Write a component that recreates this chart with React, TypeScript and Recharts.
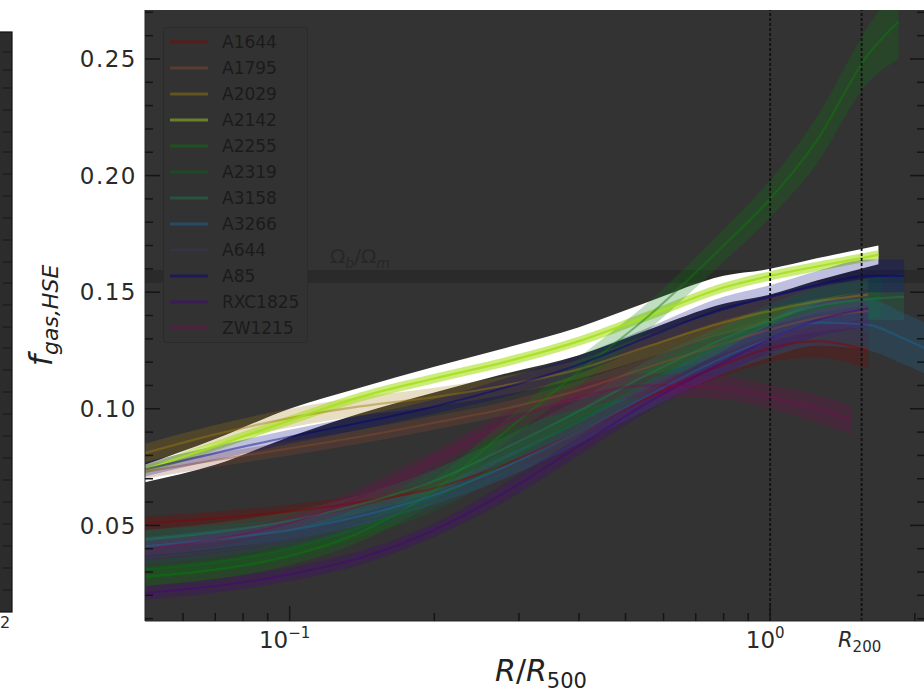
import React from "react";
import {
  Area,
  ComposedChart,
  Legend,
  Line,
  ReferenceArea,
  ReferenceLine,
  XAxis,
  YAxis,
} from "recharts";

// [R/R500, f_gas, 1-sigma half width]
type Point = [number, number, number];

const A1644: Point[] = [
  [0.05, 0.051, 0.003], [0.07, 0.053, 0.003], [0.1, 0.056, 0.003], [0.14, 0.06, 0.003],
  [0.2, 0.066, 0.003], [0.28, 0.076, 0.003], [0.4, 0.09, 0.004], [0.56, 0.105, 0.004],
  [0.8, 0.119, 0.005], [1.0, 0.126, 0.006], [1.25, 0.129, 0.007], [1.6, 0.125, 0.008],
];
const A1795: Point[] = [
  [0.05, 0.073, 0.003], [0.07, 0.078, 0.003], [0.1, 0.083, 0.003], [0.14, 0.088, 0.003],
  [0.2, 0.094, 0.003], [0.28, 0.1, 0.003], [0.4, 0.108, 0.004], [0.56, 0.118, 0.004],
  [0.8, 0.128, 0.005], [1.0, 0.134, 0.005], [1.25, 0.139, 0.006], [1.6, 0.142, 0.007],
];
const A2029: Point[] = [
  [0.05, 0.081, 0.004], [0.07, 0.089, 0.004], [0.1, 0.096, 0.004], [0.14, 0.101, 0.004],
  [0.2, 0.105, 0.004], [0.28, 0.11, 0.004], [0.4, 0.117, 0.004], [0.56, 0.127, 0.005],
  [0.8, 0.137, 0.005], [1.0, 0.142, 0.006], [1.25, 0.146, 0.006], [1.6, 0.149, 0.007],
];
const A2142: Point[] = [
  [0.05, 0.074, 0.002], [0.07, 0.084, 0.002], [0.1, 0.095, 0.002], [0.14, 0.105, 0.002],
  [0.2, 0.113, 0.002], [0.28, 0.12, 0.002], [0.4, 0.129, 0.002], [0.56, 0.14, 0.002],
  [0.8, 0.152, 0.002], [1.0, 0.157, 0.002], [1.25, 0.161, 0.002], [1.68, 0.166, 0.002],
];
const A2255: Point[] = [
  [0.05, 0.028, 0.004], [0.07, 0.031, 0.004], [0.1, 0.037, 0.004], [0.14, 0.047, 0.004],
  [0.2, 0.065, 0.005], [0.28, 0.09, 0.005], [0.4, 0.116, 0.006], [0.56, 0.14, 0.006],
  [0.8, 0.17, 0.007], [1.0, 0.19, 0.008], [1.25, 0.215, 0.01], [1.6, 0.252, 0.012],
  [1.85, 0.266, 0.016],
];
const A2319: Point[] = [
  [0.05, 0.031, 0.004], [0.07, 0.034, 0.004], [0.1, 0.04, 0.004], [0.14, 0.049, 0.004],
  [0.2, 0.061, 0.005], [0.28, 0.077, 0.005], [0.4, 0.095, 0.005], [0.56, 0.112, 0.006],
  [0.8, 0.128, 0.006], [1.0, 0.137, 0.007], [1.25, 0.143, 0.008], [1.7, 0.148, 0.009],
];
const A3158: Point[] = [
  [0.05, 0.044, 0.004], [0.07, 0.047, 0.004], [0.1, 0.052, 0.004], [0.14, 0.059, 0.004],
  [0.2, 0.069, 0.005], [0.28, 0.083, 0.005], [0.4, 0.099, 0.005], [0.56, 0.115, 0.006],
  [0.8, 0.13, 0.006], [1.0, 0.138, 0.007], [1.25, 0.144, 0.008], [1.6, 0.147, 0.009],
  [1.9, 0.148, 0.01],
];
const A3266: Point[] = [
  [0.05, 0.041, 0.004], [0.07, 0.044, 0.004], [0.1, 0.048, 0.004], [0.14, 0.054, 0.004],
  [0.2, 0.063, 0.004], [0.28, 0.075, 0.005], [0.4, 0.09, 0.005], [0.56, 0.106, 0.006],
  [0.8, 0.122, 0.007], [1.0, 0.13, 0.008], [1.25, 0.137, 0.01], [1.6, 0.136, 0.011],
  [1.9, 0.13, 0.011], [2.1, 0.126, 0.011],
];
const A644: Point[] = [
  [0.05, 0.036, 0.003], [0.07, 0.039, 0.003], [0.1, 0.044, 0.003], [0.14, 0.051, 0.004],
  [0.2, 0.061, 0.004], [0.28, 0.074, 0.004], [0.4, 0.09, 0.005], [0.56, 0.106, 0.005],
  [0.8, 0.121, 0.006], [1.0, 0.129, 0.006], [1.25, 0.134, 0.007], [1.6, 0.136, 0.008],
];
const A85: Point[] = [
  [0.05, 0.074, 0.003], [0.07, 0.081, 0.003], [0.1, 0.088, 0.003], [0.14, 0.094, 0.003],
  [0.2, 0.101, 0.003], [0.28, 0.109, 0.004], [0.4, 0.119, 0.004], [0.56, 0.131, 0.004],
  [0.8, 0.143, 0.005], [1.0, 0.148, 0.005], [1.25, 0.153, 0.006], [1.6, 0.157, 0.007],
  [1.9, 0.157, 0.007],
];
const RXC1825: Point[] = [
  [0.05, 0.021, 0.003], [0.07, 0.024, 0.003], [0.1, 0.029, 0.003], [0.14, 0.036, 0.003],
  [0.2, 0.048, 0.003], [0.28, 0.064, 0.004], [0.4, 0.084, 0.004], [0.56, 0.103, 0.004],
  [0.8, 0.12, 0.005], [1.0, 0.13, 0.006], [1.25, 0.138, 0.007], [1.6, 0.143, 0.008],
];
const ZW1215: Point[] = [
  [0.05, 0.04, 0.003], [0.07, 0.044, 0.003], [0.1, 0.051, 0.003], [0.14, 0.062, 0.004],
  [0.2, 0.078, 0.004], [0.28, 0.094, 0.004], [0.4, 0.105, 0.005], [0.56, 0.11, 0.005],
  [0.8, 0.109, 0.005], [1.0, 0.105, 0.005], [1.25, 0.1, 0.006], [1.48, 0.095, 0.006],
];

// white envelope behind A2142: [R/R500, low, high]
const A2142_ENVELOPE: [number, number, number][] = [
  [0.05, 0.0685, 0.076], [0.07, 0.076, 0.087], [0.1, 0.088, 0.1], [0.14, 0.098, 0.109],
  [0.2, 0.107, 0.118], [0.28, 0.115, 0.126], [0.4, 0.123, 0.135], [0.56, 0.134, 0.146],
  [0.8, 0.145, 0.157], [1.0, 0.149, 0.16], [1.25, 0.155, 0.1645], [1.68, 0.162, 0.17],
];

const CLUSTERS: { name: string; color: string; points: Point[] }[] = [
  { name: "A1644", color: "#8b0000", points: A1644 },
  { name: "A1795", color: "#8b4a30", points: A1795 },
  { name: "A2029", color: "#a07a10", points: A2029 },
  { name: "A2142", color: "#a8e020", points: A2142 },
  { name: "A2255", color: "#0a7a0a", points: A2255 },
  { name: "A2319", color: "#086818", points: A2319 },
  { name: "A3158", color: "#1f7a50", points: A3158 },
  { name: "A3266", color: "#1a6aa0", points: A3266 },
  { name: "A644", color: "#383860", points: A644 },
  { name: "A85", color: "#000080", points: A85 },
  { name: "RXC1825", color: "#4b0082", points: RXC1825 },
  { name: "ZW1215", color: "#7a0a55", points: ZW1215 },
];
const HIGHLIGHT = "A2142";

const X_DOMAIN: [number, number] = [0.05, 2.1];
const Y_DOMAIN: [number, number] = [0.009, 0.271];
const X_MAJOR = [0.1, 1];
const X_MINOR = [0.06, 0.07, 0.08, 0.09, 0.2, 0.3, 0.4, 0.5, 0.6, 0.7, 0.8, 0.9, 2];
const R200 = 1.55;
const Y_MAJOR = [0.05, 0.1, 0.15, 0.2, 0.25];
const Y_MINOR = [
  0.01, 0.02, 0.03, 0.04, 0.06, 0.07, 0.08, 0.09, 0.11, 0.12, 0.13, 0.14,
  0.16, 0.17, 0.18, 0.19, 0.21, 0.22, 0.23, 0.24, 0.26, 0.27,
];
const OMEGA_BAND: [number, number] = [0.154, 0.1595];

const FONT = "'DejaVu Sans', sans-serif";
const INK = "#2a2a2a";
const TICK = "#151515";
const PLOT_BG = "#333333";

// plot box inside the 926 x 695 chart
const MARGIN = { top: 10, right: 0, bottom: 0, left: 0 };
const Y_AXIS_W = 145;
const X_AXIS_H = 74;
const CHART_W = 926;
const CHART_H = 695;

const toRows = (pts: Point[]) =>
  pts.map(([r, f, e]) => ({ r, f, band: [f - e, f + e] }));

const envelopeRows = A2142_ENVELOPE.map(([r, lo, hi]) => ({ r, band: [lo, hi] }));

const decade = (v: number) => (v === 1 ? "0" : "\u22121");

function BottomTick({ x, y, payload }: any) {
  const v = payload.value as number;
  if (v === R200) {
    return (
      <text x={x - 2} y={y + 26} textAnchor="middle" fontFamily={FONT} fill={INK}>
        <tspan fontStyle="italic" fontSize={21}>R</tspan>
        <tspan fontSize={15} dy={5}>200</tspan>
      </text>
    );
  }
  const major = X_MAJOR.includes(v);
  return (
    <g>
      <line x1={x} x2={x} y1={y} y2={y - (major ? 15 : 8)} stroke={TICK} strokeWidth={1.5} />
      {major && (
        <text x={x - 5} y={y + 27} textAnchor="middle" fontFamily={FONT} fill={INK} fontSize={23}>
          10
          <tspan fontSize={15} dy={-10}>{decade(v)}</tspan>
        </text>
      )}
    </g>
  );
}

function TopTick({ x, y, payload }: any) {
  const v = payload.value as number;
  const major = X_MAJOR.includes(v);
  return <line x1={x} x2={x} y1={y} y2={y + (major ? 15 : 8)} stroke={TICK} strokeWidth={1.5} />;
}

function LeftTick({ x, y, payload }: any) {
  const v = payload.value as number;
  const major = Y_MAJOR.includes(v);
  return (
    <g>
      <line x1={x} x2={x + (major ? 15 : 8)} y1={y} y2={y} stroke={TICK} strokeWidth={1.5} />
      {major && (
        <text x={x - 8} y={y} dy="0.36em" textAnchor="end" fontFamily={FONT} fontSize={23} fill={INK} letterSpacing={1.5}>
          {v.toFixed(2)}
        </text>
      )}
    </g>
  );
}

function RightTick({ x, y, payload }: any) {
  const v = payload.value as number;
  const major = Y_MAJOR.includes(v);
  return <line x1={x} x2={x - (major ? 15 : 8)} y1={y} y2={y} stroke={TICK} strokeWidth={1.5} />;
}

const renderXLabel = ({ viewBox }: any) => (
  <text x={viewBox.x + viewBox.width / 2 + 6} y={viewBox.y + 60} textAnchor="middle" fontFamily={FONT} fill="#222">
    <tspan fontStyle="italic" fontSize={30}>R</tspan>
    <tspan fontSize={30}>/</tspan>
    <tspan fontStyle="italic" fontSize={30}>R</tspan>
    <tspan fontSize={21} dy={7}>500</tspan>
  </text>
);

const renderYLabel = ({ viewBox }: any) => {
  const cx = 52;
  const cy = viewBox.y + viewBox.height / 2;
  return (
    <text x={cx} y={cy} transform={`rotate(-90 ${cx} ${cy})`} textAnchor="middle" fontFamily={FONT} fill="#222">
      <tspan fontStyle="italic" fontSize={32}>f</tspan>
      <tspan fontStyle="italic" fontSize={22} dy={6}>gas,HSE</tspan>
    </text>
  );
};

const renderOmegaLabel = ({ viewBox }: any) => (
  <text x={viewBox.x + 185} y={viewBox.y - 7} fontFamily={FONT} fill="#272727" fontSize={20}>
    Ω<tspan fontSize={14} fontStyle="italic" dy={5}>b</tspan>
    <tspan dy={-5}>/Ω</tspan>
    <tspan fontSize={14} fontStyle="italic" dy={5}>m</tspan>
  </text>
);

function ClusterLegend() {
  return (
    <div
      style={{
        width: 145,
        height: 316,
        boxSizing: "border-box",
        paddingTop: 1,
        paddingLeft: 6,
        background: "#323232",
        border: "1px solid #2b2b2b",
        borderRadius: 3,
        fontFamily: FONT,
      }}
    >
      {CLUSTERS.map((c) => (
        <div key={c.name} style={{ display: "flex", alignItems: "center", height: 26 }}>
          <svg width={40} height={6} style={{ marginRight: 12 }}>
            <line x1={0} x2={38} y1={3} y2={3} stroke={c.color} strokeOpacity={0.45} strokeWidth={3} />
          </svg>
          <span style={{ fontSize: 17, color: "#1b1b1b", lineHeight: "26px" }}>{c.name}</span>
        </div>
      ))}
    </div>
  );
}

// edge of the neighbouring panel that is cut off on the left
function NeighbourPanelEdge() {
  const ticks = [52, 70, 88, 110, 132, 152, 174, 196, 218, 240, 262, 283, 305, 327, 348, 370, 392, 414, 436, 458, 480, 502, 524, 546, 568, 590];
  return (
    <svg width={20} height={640} style={{ position: "absolute", left: 0, top: 0 }}>
      <rect x={-4} y={32} width={16} height={580} fill="#2c2c2c" stroke="#111" strokeWidth={1.2} />
      {ticks.map((t) => (
        <line key={t} x1={3} x2={12} y1={t} y2={t} stroke="#161616" strokeWidth={1} />
      ))}
      <text x={0} y={628} fontFamily={FONT} fontSize={16} fill={INK}>2</text>
    </svg>
  );
}

export default function App() {
  return (
    <div
      style={{
        position: "absolute",
        left: 0,
        top: 0,
        width: 924,
        height: 695,
        overflow: "hidden",
        background: "#ffffff",
      }}
    >
      <NeighbourPanelEdge />
      {/* plot background sits under the svg so the inward ticks stay visible */}
      <div
        style={{
          position: "absolute",
          left: MARGIN.left + Y_AXIS_W,
          top: MARGIN.top,
          width: CHART_W - MARGIN.left - MARGIN.right - Y_AXIS_W - 1,
          height: CHART_H - MARGIN.top - MARGIN.bottom - X_AXIS_H,
          background: PLOT_BG,
        }}
      />
      <ComposedChart width={CHART_W} height={CHART_H} margin={MARGIN}>
        <ReferenceArea
          y1={OMEGA_BAND[0]}
          y2={OMEGA_BAND[1]}
          fill="#2a2a2a"
          fillOpacity={1}
          stroke="none"
          ifOverflow="hidden"
          label={renderOmegaLabel}
        />

        <Area
          data={envelopeRows}
          dataKey="band"
          type="monotone"
          stroke="none"
          fill="#ffffff"
          fillOpacity={1}
          isAnimationActive={false}
          activeDot={false}
        />

        {CLUSTERS.map((c) => (
          <Area
            key={`${c.name}-band`}
            data={toRows(c.points)}
            dataKey="band"
            type="monotone"
            stroke="none"
            fill={c.color}
            fillOpacity={c.name === HIGHLIGHT ? 0.6 : 0.25}
            isAnimationActive={false}
            activeDot={false}
          />
        ))}
        {CLUSTERS.map((c) => (
          <Line
            key={`${c.name}-line`}
            data={toRows(c.points)}
            dataKey="f"
            type="monotone"
            stroke={c.color}
            strokeOpacity={c.name === HIGHLIGHT ? 0.9 : 0.45}
            strokeWidth={2.2}
            dot={false}
            activeDot={false}
            isAnimationActive={false}
          />
        ))}

        <ReferenceLine x={1} stroke="#111" strokeWidth={1.8} strokeDasharray="3 2" />
        <ReferenceLine x={R200} stroke="#111" strokeWidth={1.8} strokeDasharray="3 2" />

        <XAxis
          dataKey="r"
          type="number"
          scale="log"
          domain={X_DOMAIN}
          allowDataOverflow
          ticks={[...X_MINOR, ...X_MAJOR, R200]}
          interval={0}
          tick={<BottomTick />}
          tickLine={false}
          tickSize={0}
          tickMargin={0}
          axisLine={{ stroke: "#262626" }}
          height={X_AXIS_H}
          label={renderXLabel}
        />
        <XAxis
          xAxisId="top"
          orientation="top"
          dataKey="r"
          type="number"
          scale="log"
          domain={X_DOMAIN}
          allowDataOverflow
          ticks={[...X_MINOR, ...X_MAJOR]}
          interval={0}
          tick={<TopTick />}
          tickLine={false}
          tickSize={0}
          tickMargin={0}
          axisLine={{ stroke: "#3a3a3a" }}
          height={0}
        />
        <YAxis
          type="number"
          domain={Y_DOMAIN}
          allowDataOverflow
          ticks={[...Y_MINOR, ...Y_MAJOR]}
          interval={0}
          tick={<LeftTick />}
          tickLine={false}
          tickSize={0}
          tickMargin={0}
          axisLine={{ stroke: "#262626" }}
          width={Y_AXIS_W}
          label={renderYLabel}
        />
        <YAxis
          yAxisId="right"
          orientation="right"
          type="number"
          domain={Y_DOMAIN}
          allowDataOverflow
          ticks={[...Y_MINOR, ...Y_MAJOR]}
          interval={0}
          tick={<RightTick />}
          tickLine={false}
          tickSize={0}
          tickMargin={0}
          axisLine={false}
          width={1}
        />

        <Legend
          layout="vertical"
          align="center"
          verticalAlign="middle"
          content={() => <ClusterLegend />}
          wrapperStyle={{ position: "absolute", left: 163, top: 27, width: 145, height: 316 }}
        />
      </ComposedChart>
    </div>
  );
}
